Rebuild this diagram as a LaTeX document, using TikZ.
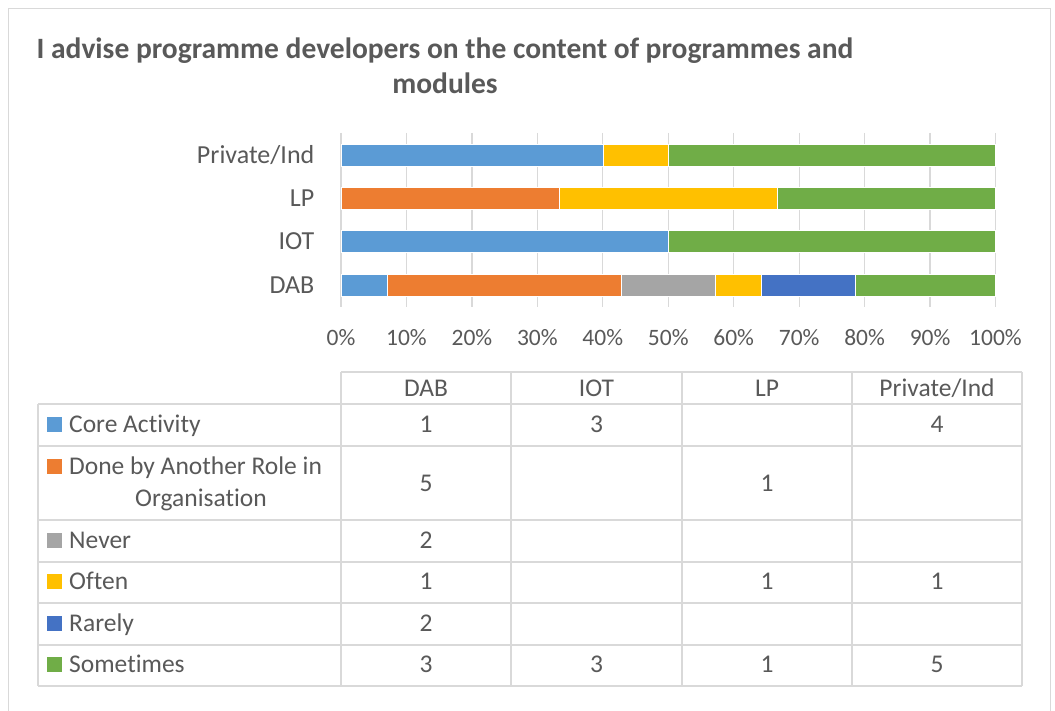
\documentclass[tikz,border=0pt]{standalone}
\usepackage{fontspec}
\setmainfont[Ligatures={NoCommon}]{Carlito}
\definecolor{txt}{HTML}{595959}
\definecolor{gridc}{HTML}{D9D9D9}
\definecolor{cCore}{HTML}{5B9BD5}
\definecolor{cDone}{HTML}{ED7D31}
\definecolor{cNever}{HTML}{A5A5A5}
\definecolor{cOften}{HTML}{FFC000}
\definecolor{cRare}{HTML}{4472C4}
\definecolor{cSome}{HTML}{70AD47}
\begin{document}
\begin{tikzpicture}[x=1pt,y=-1pt,
  ttl/.style={text=txt,font=\bfseries\fontsize{29.5}{36}\selectfont,inner sep=0pt,anchor=base},
  lbl/.style={text=txt,font=\fontsize{25.5}{32}\selectfont,inner sep=0pt,anchor=base},
  cat/.style={text=txt,font=\fontsize{26}{32}\selectfont,inner sep=0pt,anchor=base east},
  tick/.style={text=txt,font=\fontsize{23.5}{28}\selectfont,inner sep=0pt,anchor=base},
  gridl/.style={draw=gridc,line width=1.3pt},
  tbl/.style={draw=gridc,line width=1.5pt},
  seg/.style={draw=white,line width=0.6pt},
  key/.style={minimum size=15pt,inner sep=0pt,anchor=center}]
\useasboundingbox (0,0) rectangle (1055,711);
\fill[white] (0,0) rectangle (1055,711);
% frame
\draw[gridc,line width=1.3pt] (8.5,712) -- (8.5,8.5) -- (1050.5,8.5) -- (1050.5,712);
% title
\node[ttl] (title1) at (445,58.5) {I advise programme developers on the content of programmes and};
\node[ttl] (title2) at (445,93.5) {modules};
% plot
\begin{scope}[xshift=341pt,x=6.545pt]
  \foreach \p in {0,10,...,100} \draw[gridl] (\p,133) -- (\p,307);
  \foreach \p [count=\i] in {0,10,...,100} \node[tick] (tick\i) at (\p,345) {\p\%};
  % Private/Ind
  \fill[cCore,seg] (0,144) rectangle (40,166);
  \fill[cOften,seg] (40,144) rectangle (50,166);
  \fill[cSome,seg] (50,144) rectangle (100,166);
  % LP
  \fill[cDone,seg] (0,187.3) rectangle (33.333,209.3);
  \fill[cOften,seg] (33.333,187.3) rectangle (66.667,209.3);
  \fill[cSome,seg] (66.667,187.3) rectangle (100,209.3);
  % IOT
  \fill[cCore,seg] (0,230.7) rectangle (50,252.7);
  \fill[cSome,seg] (50,230.7) rectangle (100,252.7);
  % DAB
  \fill[cCore,seg] (0,274.5) rectangle (7.143,296.5);
  \fill[cDone,seg] (7.143,274.5) rectangle (42.857,296.5);
  \fill[cNever,seg] (42.857,274.5) rectangle (57.143,296.5);
  \fill[cOften,seg] (57.143,274.5) rectangle (64.286,296.5);
  \fill[cRare,seg] (64.286,274.5) rectangle (78.571,296.5);
  \fill[cSome,seg] (78.571,274.5) rectangle (100,296.5);
\end{scope}
\node[cat] (catP) at (314.5,163.3) {Private/Ind};
\node[cat] (catL) at (314.5,206.6) {LP};
\node[cat] (catI) at (314.5,250) {IOT};
\node[cat] (catD) at (314.5,293.8) {DAB};
% table grid
\draw[tbl] (341,372) -- (1022,372);
\foreach \yy in {404,446,520,562,603,645,686} \draw[tbl] (38,\yy) -- (1022,\yy);
\draw[tbl] (38,404) -- (38,686);
\foreach \xx in {341,511,682,852,1022} \draw[tbl] (\xx,372) -- (\xx,686);
% header
\node[lbl] (hDAB) at (426,396) {DAB};
\node[lbl] (hIOT) at (596.5,396) {IOT};
\node[lbl] (hLP) at (767,396) {LP};
\node[lbl] (hPI) at (937,396) {Private/Ind};
% legend keys and labels
\node[key,fill=cCore] (kCore) at (54.5,424) {};
\node[lbl,anchor=base west] (lCore) at (69,432.7) {Core Activity};
\node[key,fill=cDone] (kDone) at (54.5,466.5) {};
\node[lbl,anchor=base west] (lDone1) at (69,474) {Done by Another Role in};
\node[lbl] (lDone2) at (201,506) {Organisation};
\node[key,fill=cNever] (kNever) at (54.5,540) {};
\node[lbl,anchor=base west] (lNever) at (69,548) {Never};
\node[key,fill=cOften] (kOften) at (54.5,581.5) {};
\node[lbl,anchor=base west] (lOften) at (69,589.5) {Often};
\node[key,fill=cRare] (kRare) at (54.5,623) {};
\node[lbl,anchor=base west] (lRare) at (69,631) {Rarely};
\node[key,fill=cSome] (kSome) at (54.5,664.5) {};
\node[lbl,anchor=base west] (lSome) at (69,672.5) {Sometimes};
% values
\node[lbl] (v11) at (426,432.7) {1};
\node[lbl] (v12) at (596.5,432.7) {3};
\node[lbl] (v14) at (937,432.7) {4};
\node[lbl] (v21) at (426,491) {5};
\node[lbl] (v23) at (767,491) {1};
\node[lbl] (v31) at (426,548) {2};
\node[lbl] (v41) at (426,589.5) {1};
\node[lbl] (v43) at (767,589.5) {1};
\node[lbl] (v44) at (937,589.5) {1};
\node[lbl] (v51) at (426,631) {2};
\node[lbl] (v61) at (426,672.5) {3};
\node[lbl] (v62) at (596.5,672.5) {3};
\node[lbl] (v63) at (767,672.5) {1};
\node[lbl] (v64) at (937,672.5) {5};
\end{tikzpicture}
\end{document}
